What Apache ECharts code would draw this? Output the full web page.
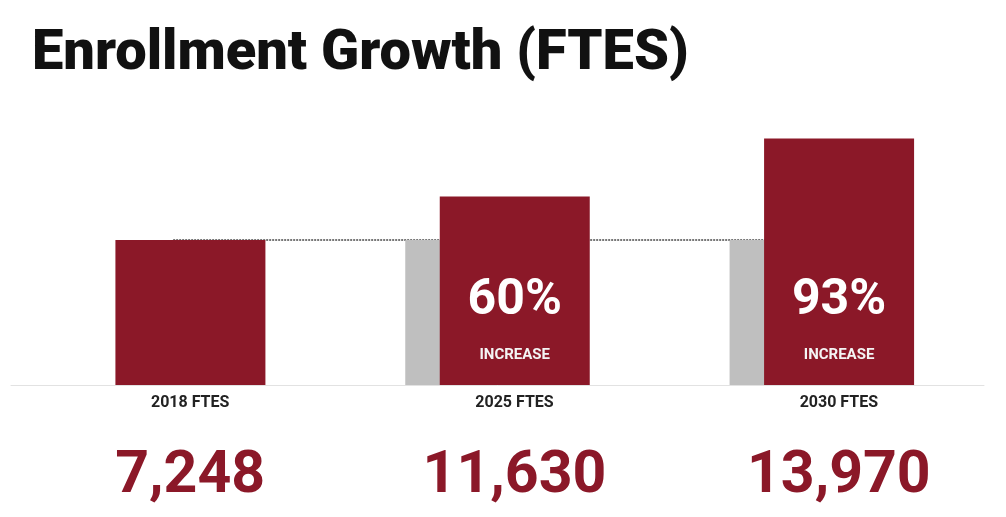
<!DOCTYPE html>
<html>
<head>
<meta charset="utf-8">
<title>Enrollment Growth (FTES)</title>
<script src="https://cdn.jsdelivr.net/npm/echarts@6/dist/echarts.min.js"></script>
<style>
  html, body { margin: 0; padding: 0; background: #fff; }
  #main { width: 1006px; height: 517px; }
</style>
</head>
<body>
<div id="main"></div>
<script>
// categories and values
const categories = ['2018 FTES', '2025 FTES', '2030 FTES'];
const ftesValues = [7248, 11630, 13970];
// bar heights as drawn, relative to 2018 = 100
const barHeights = [100, 130, 170];
// grey "2018 level" bars behind the later years
const baseHeights = ['-', 100, 100];
const baseLine = [100, 100, 100];
const increaseLabels = ['', '60%', '93%'];

const RED = '#8b1828';
const GREY = '#bfbfbf';

const chart = echarts.init(document.getElementById('main'));

const option = {
  animation: false,
  backgroundColor: '#fff',
  title: {
    text: 'Enrollment Growth (FTES)',
    left: 27,
    top: 22,
    textStyle: {
      fontFamily: 'Roboto',
      fontWeight: 900,
      fontSize: 56,
      color: '#111'
    }
  },
  grid: {
    left: 11,
    right: 22,
    top: 95,
    bottom: 132
  },
  xAxis: {
    type: 'category',
    data: categories,
    axisLine: { lineStyle: { color: '#e2e2e2', width: 1 } },
    axisTick: { show: false },
    axisLabel: {
      margin: 5,
      // labels sit under the red bars, not the category centre
      padding: [0, 0, 0, 34],
      formatter: function (value, idx) {
        return '{n|' + value + '}\n{v|' + ftesValues[idx].toLocaleString('en-US') + '}';
      },
      rich: {
        n: {
          fontFamily: 'Roboto',
          fontWeight: 'bold',
          fontSize: 16,
          color: '#222',
          lineHeight: 26
        },
        v: {
          fontFamily: 'Roboto',
          fontWeight: 'bold',
          fontSize: 59,
          color: RED,
          lineHeight: 122
        }
      }
    }
  },
  yAxis: {
    type: 'value',
    min: 0,
    max: 200,
    show: false
  },
  series: [
    {
      type: 'line',
      data: baseLine,
      symbol: 'none',
      z: 1,
      lineStyle: { color: '#777', width: 2, type: [2, 1] }
    },
    {
      type: 'bar',
      data: baseHeights,
      barWidth: 150,
      barGap: '-77%',
      z: 2,
      itemStyle: { color: GREY }
    },
    {
      type: 'bar',
      data: barHeights,
      barWidth: 150,
      z: 3,
      itemStyle: { color: RED },
      label: {
        show: true,
        position: 'insideBottom',
        distance: 9,
        formatter: function (p) {
          const t = increaseLabels[p.dataIndex];
          return t ? '{p|' + t + '}\n{s|INCREASE}' : '';
        },
        rich: {
          p: {
            fontFamily: 'Roboto',
            fontWeight: 'bold',
            fontSize: 50,
            color: '#fff',
            lineHeight: 66
          },
          s: {
            fontFamily: 'Roboto',
            fontWeight: 'bold',
            fontSize: 15,
            color: '#f4f4f4',
            lineHeight: 42
          }
        }
      }
    }
  ]
};

chart.setOption(option);
</script>
</body>
</html>
